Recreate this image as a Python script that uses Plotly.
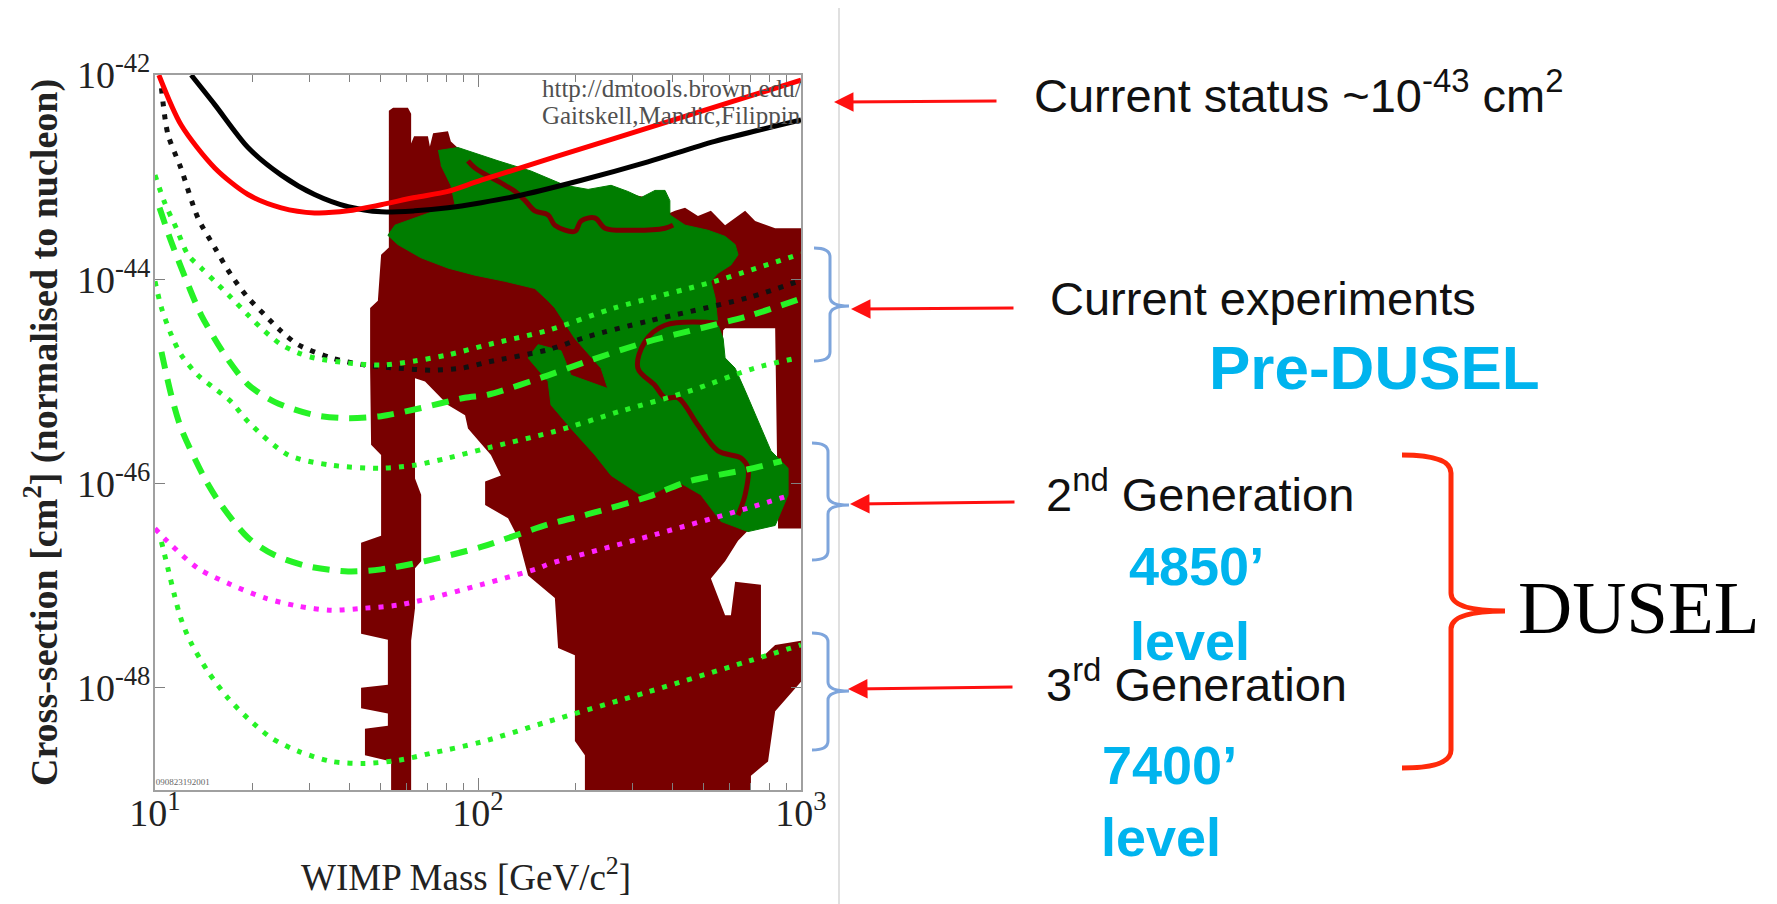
import numpy as np
import plotly.graph_objects as go

W, H = 1777, 904

# ---------------- data: log10(WIMP mass / GeV), log10(cross-section / cm^2) ----------------
red_lm = [1.012, 1.081, 1.185, 1.288, 1.391, 1.494, 1.598, 1.70, 1.804, 1.907, 2.01, 2.423, 3.0]
red_ls = [-42.0, -42.49, -42.91, -43.17, -43.30, -43.35, -43.33, -43.27, -43.20, -43.14, -43.03, -42.62, -42.05]

blk_lm = [1.112, 1.185, 1.288, 1.391, 1.494, 1.598, 1.70, 1.804, 1.907, 2.01, 2.114, 2.32, 2.526, 2.733, 3.0]
blk_ls = [-42.0, -42.29, -42.71, -42.98, -43.17, -43.29, -43.34, -43.33, -43.30, -43.25, -43.19, -43.03, -42.85, -42.65, -42.44]

bkd_lm = [1.02, 1.04, 1.08, 1.133, 1.185, 1.236, 1.288, 1.34, 1.391, 1.443, 1.546, 1.649, 1.752, 1.855, 1.95, 2.031, 2.217, 2.341, 2.526, 2.836, 3.0]
bkd_ls = [-42.13, -42.58, -42.91, -43.40, -43.69, -43.96, -44.18, -44.35, -44.51, -44.64, -44.77, -44.84, -44.87, -44.89, -44.87, -44.81, -44.69, -44.56, -44.41, -44.18, -44.01]

gA_lm = [1.0, 1.03, 1.066, 1.102, 1.143, 1.185, 1.236, 1.288, 1.34, 1.391, 1.443, 1.494, 1.598, 1.70, 1.804, 1.907, 2.031, 2.217, 2.423, 2.733, 3.0]
gA_ls = [-42.98, -43.25, -43.50, -43.76, -43.89, -44.02, -44.18, -44.35, -44.51, -44.64, -44.72, -44.77, -44.82, -44.84, -44.80, -44.74, -44.64, -44.50, -44.28, -44.02, -43.75]

gB_lm = [1.014, 1.05, 1.102, 1.143, 1.216, 1.288, 1.37, 1.494, 1.598, 1.70, 1.824, 1.959, 2.031, 2.217, 2.341, 2.526, 2.65, 2.836, 3.0]
gB_ls = [-43.30, -43.63, -44.05, -44.35, -44.74, -45.03, -45.20, -45.33, -45.36, -45.34, -45.26, -45.16, -45.13, -44.94, -44.80, -44.61, -44.51, -44.36, -44.19]

gC_lm = [1.0, 1.02, 1.05, 1.081, 1.133, 1.185, 1.236, 1.29, 1.412, 1.546, 1.70, 1.804, 1.907, 2.031, 2.237, 2.443, 2.65, 2.856, 2.99]
gC_ls = [-44.02, -44.28, -44.54, -44.74, -44.94, -45.07, -45.20, -45.40, -45.72, -45.82, -45.85, -45.82, -45.75, -45.65, -45.49, -45.29, -45.10, -44.87, -44.77]

gD_lm = [1.02, 1.05, 1.081, 1.154, 1.205, 1.288, 1.37, 1.474, 1.598, 1.70, 1.835, 2.01, 2.217, 2.341, 2.526, 2.65, 2.836, 2.94]
gD_ls = [-44.71, -45.13, -45.46, -45.95, -46.21, -46.53, -46.70, -46.81, -46.86, -46.84, -46.76, -46.62, -46.40, -46.30, -46.13, -45.98, -45.86, -45.78]

mag_lm = [1.0, 1.04, 1.133, 1.236, 1.34, 1.443, 1.546, 1.649, 1.752, 1.855, 2.01, 2.186, 2.217, 2.547, 2.836, 2.97]
mag_ls = [-46.44, -46.57, -46.83, -46.99, -47.12, -47.20, -47.24, -47.22, -47.19, -47.12, -46.99, -46.83, -46.79, -46.50, -46.24, -46.11]

gE_lm = [1.02, 1.04, 1.06, 1.08, 1.11, 1.164, 1.226, 1.288, 1.36, 1.443, 1.546, 1.649, 1.752, 1.855, 2.01, 2.217, 2.526, 2.836, 3.0]
gE_ls = [-46.57, -46.83, -47.09, -47.32, -47.55, -47.84, -48.10, -48.30, -48.49, -48.62, -48.72, -48.74, -48.71, -48.64, -48.53, -48.33, -48.04, -47.74, -47.58]

# theory regions (outline vertices)
dark_lm = [1.731, 1.731, 1.650, 1.650, 1.721, 1.721, 1.638, 1.638, 1.721, 1.721, 1.638, 1.638, 1.700, 1.700,
           1.669, 1.666, 1.666, 1.690, 1.700, 1.724, 1.724, 1.737, 1.783, 1.793, 1.793, 1.802, 1.845, 1.851,
           1.861, 1.907, 1.916, 1.954, 2.093, 2.279, 2.402, 2.526, 2.588, 2.594, 2.610, 2.641, 2.681, 2.721,
           2.765, 2.796, 2.827, 2.858, 2.920, 3.0, 3.0, 2.929, 2.926, 2.920, 2.920, 2.765, 2.759, 2.756, 2.786,
           2.817, 2.858, 2.898, 2.898, 2.836, 2.805, 2.765, 2.721, 2.765, 2.783, 2.796, 2.876, 2.876, 2.920,
           3.0, 3.0, 2.920, 2.898, 2.845, 2.845, 2.331, 2.331, 2.300, 2.300, 2.248, 2.238, 2.155, 2.124, 2.093,
           2.022, 2.022, 2.071, 2.040, 1.969, 1.960, 1.907, 1.876, 1.836, 1.805, 1.805, 1.824, 1.824, 1.805,
           1.805, 1.793, 1.793]
dark_ls = [-49.0, -48.72, -48.66, -48.40, -48.37, -48.25, -48.20, -48.00, -47.97, -47.53, -47.47, -46.58, -46.51, -45.72,
           -45.62, -44.87, -44.28, -44.21, -43.76, -43.69, -42.35, -42.32, -42.32, -42.38, -42.67, -42.60, -42.60, -42.70,
           -42.57, -42.55, -42.65, -42.76, -42.93, -43.11, -43.13, -43.20, -43.30, -43.35, -43.33, -43.30, -43.38, -43.33,
           -43.47, -43.40, -43.33, -43.43, -43.50, -43.50, -46.44, -46.44, -45.70, -44.77, -44.48, -44.48, -44.50, -44.72, -44.89,
           -45.11, -45.41, -45.70, -46.39, -46.46, -46.56, -46.76, -46.93, -47.29, -47.29, -46.96, -46.99, -47.71, -47.58,
           -47.54, -47.94, -48.23, -48.72, -48.86, -49.0, -49.0, -48.66, -48.52, -47.68, -47.61, -47.12, -46.90, -46.53, -46.34,
           -46.21, -45.98, -45.92, -45.72, -45.46, -45.33, -45.23, -45.13, -45.00, -44.97, -45.95, -46.11, -46.76, -46.83,
           -47.22, -47.54, -49.0]

green_lm = [1.876, 1.938, 2.062, 2.164, 2.269, 2.341, 2.412, 2.464, 2.505, 2.548, 2.579, 2.594, 2.594, 2.641, 2.712,
            2.765, 2.796, 2.805, 2.783, 2.743, 2.721, 2.734, 2.743, 2.759, 2.765, 2.796, 2.827, 2.867, 2.907, 2.960,
            2.960, 2.920, 2.836, 2.752, 2.690, 2.619, 2.517, 2.412, 2.362, 2.288, 2.226, 2.217, 2.155, 2.186, 2.257,
            2.288, 2.402, 2.381, 2.300, 2.238, 2.217, 2.176, 2.084, 1.991, 1.907, 1.824, 1.752, 1.721, 1.743, 1.805,
            1.867, 1.929, 1.916, 1.885]
green_ls = [-42.74, -42.71, -42.84, -42.94, -43.08, -43.12, -43.08, -43.14, -43.20, -43.13, -43.13, -43.23, -43.37, -43.47, -43.52,
            -43.58, -43.66, -43.76, -43.86, -43.94, -44.02, -44.18, -44.45, -44.58, -44.77, -44.87, -45.09, -45.39, -45.68, -45.85,
            -46.11, -46.41, -46.47, -46.37, -46.11, -45.98, -46.14, -45.92, -45.72, -45.46, -45.23, -45.00, -44.77, -44.64, -44.70,
            -44.94, -45.07, -44.87, -44.58, -44.28, -44.21, -44.09, -44.02, -43.96, -43.89, -43.79, -43.66, -43.57, -43.47, -43.40,
            -43.33, -43.27, -43.08, -42.88]

cont1_lm = [1.969, 1.991, 2.084, 2.115, 2.146, 2.176, 2.217, 2.238, 2.300, 2.319, 2.362, 2.393, 2.474, 2.579, 2.604]
cont1_ls = [-42.84, -42.91, -43.08, -43.14, -43.23, -43.33, -43.37, -43.47, -43.53, -43.43, -43.40, -43.50, -43.52, -43.50, -43.47]

cont2_lm = [2.752, 2.579, 2.517, 2.495, 2.548, 2.579, 2.619, 2.681, 2.743, 2.814, 2.836, 2.827, 2.805]
cont2_ls = [-44.43, -44.45, -44.61, -44.87, -45.04, -45.16, -45.16, -45.43, -45.68, -45.75, -45.85, -46.11, -46.31]

x_tick_vals = [10, 100, 1000]
x_tick_text = ["10<sup>1</sup>", "10<sup>2</sup>", "10<sup>3</sup>"]
x_minor_vals = [20, 30, 40, 50, 60, 70, 80, 90, 200, 300, 400, 500, 600, 700, 800, 900]
y_tick_vals = [1e-42, 1e-44, 1e-46, 1e-48]
y_tick_text = ["10<sup>-42</sup>", "10<sup>-44</sup>", "10<sup>-46</sup>", "10<sup>-48</sup>"]

# ---------------- helpers (layout in pixels -> paper) ----------------
def PX(x):
    return x / W


def PY(y):
    return 1 - y / H


def pw(a):
    return 10 ** np.asarray(a, dtype=float)


DARK = "#780000"
GREEN = "#007d00"
LIME = "#26f226"
DOT = "5px,8px"
DASH = "17px,11px"

fig = go.Figure()

fig.add_trace(go.Scatter(x=pw(dark_lm), y=pw(dark_ls), fill="toself", fillcolor=DARK, mode="lines",
                         line=dict(width=0, color=DARK), hoverinfo="skip", showlegend=False))
fig.add_trace(go.Scatter(x=pw(green_lm), y=pw(green_ls), fill="toself", fillcolor=GREEN, mode="lines",
                         line=dict(width=1, color=GREEN), hoverinfo="skip", showlegend=False))
for lm, ls in [(cont1_lm, cont1_ls), (cont2_lm, cont2_ls)]:
    fig.add_trace(go.Scatter(x=pw(lm), y=pw(ls), mode="lines", line=dict(color=DARK, width=5, shape="spline"),
                             hoverinfo="skip", showlegend=False))

lines = [
    (gE_lm, gE_ls, LIME, DOT, 5),
    (mag_lm, mag_ls, "#ff22ff", DOT, 5),
    (gD_lm, gD_ls, LIME, DASH, 6),
    (gC_lm, gC_ls, LIME, DOT, 5),
    (gB_lm, gB_ls, LIME, DASH, 6),
    (bkd_lm, bkd_ls, "#111111", DOT, 5),
    (gA_lm, gA_ls, LIME, DOT, 5),
    (blk_lm, blk_ls, "#000000", "solid", 5),
    (red_lm, red_ls, "#ff0000", "solid", 5),
]
for lm, ls, col, dash, wd in lines:
    fig.add_trace(go.Scatter(x=pw(lm), y=pw(ls), mode="lines",
                             line=dict(color=col, width=wd, dash=dash, shape="spline", smoothing=0.8),
                             hoverinfo="skip", showlegend=False))

# in-plot credit text (clipped by the frame like the original)
fig.add_trace(go.Scatter(x=[10 ** 2.198, 10 ** 2.198], y=[10 ** -42.15, 10 ** -42.42], mode="text",
                         text=["http://dmtools.brown.edu/", "Gaitskell,Mandic,Filippini"],
                         textposition="middle right", cliponaxis=True,
                         textfont=dict(family="Liberation Serif", size=25, color="#505050"),
                         hoverinfo="skip", showlegend=False))
fig.add_trace(go.Scatter(x=[10 ** 1.002], y=[10 ** -48.97], mode="text", text=["090823192001"],
                         textposition="top right", cliponaxis=True,
                         textfont=dict(family="Liberation Serif", size=9, color="#666666"),
                         hoverinfo="skip", showlegend=False))

FR = "#a0a0a0"
fig.update_xaxes(type="log", range=[1, 3], domain=[PX(147), PX(793)], automargin=False,
                 showline=True, linecolor=FR, linewidth=2, mirror="allticks",
                 ticks="inside", ticklen=12, tickwidth=1, tickcolor="#808080",
                 tickvals=x_tick_vals, ticktext=x_tick_text, showgrid=False, zeroline=False,
                 ticklabelstandoff=-12,
                 minor=dict(tickvals=x_minor_vals, ticks="inside", ticklen=7, tickcolor="#808080", showgrid=False),
                 tickfont=dict(family="Liberation Serif", size=38, color="#222222"))
fig.update_yaxes(type="log", range=[-49, -42], domain=[PY(782), PY(67)], automargin=False,
                 showline=True, linecolor=FR, linewidth=2, mirror="allticks",
                 ticks="inside", ticklen=10, tickwidth=1, tickcolor="#808080",
                 tickvals=y_tick_vals, ticktext=y_tick_text, showgrid=False, zeroline=False,
                 ticklabelstandoff=-5,
                 tickfont=dict(family="Liberation Serif", size=38, color="#222222"))

ann = []
# axis titles
ann.append(dict(x=PX(458), y=PY(866), xref="paper", yref="paper", showarrow=False,
                text="WIMP Mass [GeV/c<sup>2</sup>]", xanchor="center", yanchor="middle",
                font=dict(family="Liberation Serif", size=37, color="#222222")))
ann.append(dict(x=PX(33), y=PY(425), xref="paper", yref="paper", showarrow=False, textangle=-90,
                text="<b>Cross-section [cm<sup>2</sup>] (normalised to nucleon)</b>", xanchor="center", yanchor="middle",
                font=dict(family="Liberation Serif", size=38, color="#222222")))

SANS = "Liberation Sans, Arial, sans-serif"
CYAN = "#00b4ee"
texts = [
    ("Current status ~10<sup>-43</sup> cm<sup>2</sup>", 1024, 84, SANS, 47, "#111111"),
    ("Current experiments", 1040, 291, SANS, 47, "#111111"),
    ("<b>Pre-DUSEL</b>", 1199, 360, SANS, 62, CYAN),
    ("2<sup>nd</sup> Generation", 1036, 483, SANS, 47, "#111111"),
    ("<b>4850’</b>", 1119, 558, SANS, 54, CYAN),
    ("<b>level</b>", 1120, 633, SANS, 54, CYAN),
    ("3<sup>rd</sup> Generation", 1036, 673, SANS, 47, "#111111"),
    ("<b>7400’</b>", 1092, 757, SANS, 54, CYAN),
    ("<b>level</b>", 1091, 829, SANS, 54, CYAN),
    ("DUSEL", 1508, 599, "Liberation Serif", 75, "#000000"),
]
for t, x, y, fam, sz, col in texts:
    ann.append(dict(x=PX(x), y=PY(y), xref="paper", yref="paper", showarrow=False, text=t,
                    xanchor="left", yanchor="middle", font=dict(family=fam, size=sz, color=col)))

# red arrows (tip in paper coords, tail as pixel offset)
for (tx, ty, sx, sy) in [(826, 94, 990, 93), (843, 301, 1007, 300), (842, 496, 1008, 494), (840, 681, 1006, 679)]:
    ann.append(dict(x=PX(tx), y=PY(ty), ax=sx - tx, ay=sy - ty, xref="paper", yref="paper",
                    showarrow=True, text="", arrowhead=2,
                    arrowsize=1.3, arrowwidth=3, arrowcolor="#ff1010"))


def brace(xe, xm, xt, yt, yc, yb, r):
    pts = [
        f"M {PX(xe)},{PY(yt)}",
        f"Q {PX(xm)},{PY(yt)} {PX(xm)},{PY(yt + r)}",
        f"L {PX(xm)},{PY(yc - r)}",
        f"Q {PX(xm)},{PY(yc)} {PX(xt)},{PY(yc)}",
        f"Q {PX(xm)},{PY(yc)} {PX(xm)},{PY(yc + r)}",
        f"L {PX(xm)},{PY(yb - r)}",
        f"Q {PX(xm)},{PY(yb)} {PX(xe)},{PY(yb)}",
    ]
    return " ".join(pts)


shapes = [dict(type="line", xref="paper", yref="paper", x0=PX(831), x1=PX(831), y0=0, y1=1,
               line=dict(color="#d6d6d6", width=1.5))]
for (xe, xm, xt, yt, yc, yb) in [(806, 822, 841, 240, 298, 353), (804, 820, 841, 435, 497, 552),
                                 (804, 820, 841, 625, 683, 742)]:
    shapes.append(dict(type="path", xref="paper", yref="paper", path=brace(xe, xm, xt, yt, yc, yb, 9),
                       line=dict(color="#7ea5dc", width=3)))
shapes.append(dict(type="path", xref="paper", yref="paper", path=brace(1394, 1443, 1497, 447, 603, 760, 18),
                   line=dict(color="#ff2a0a", width=5)))

fig.update_layout(width=W, height=H, margin=dict(l=0, r=0, t=0, b=0), paper_bgcolor="white",
                  plot_bgcolor="white", showlegend=False, annotations=ann, shapes=shapes)

fig.write_html("out.html")
